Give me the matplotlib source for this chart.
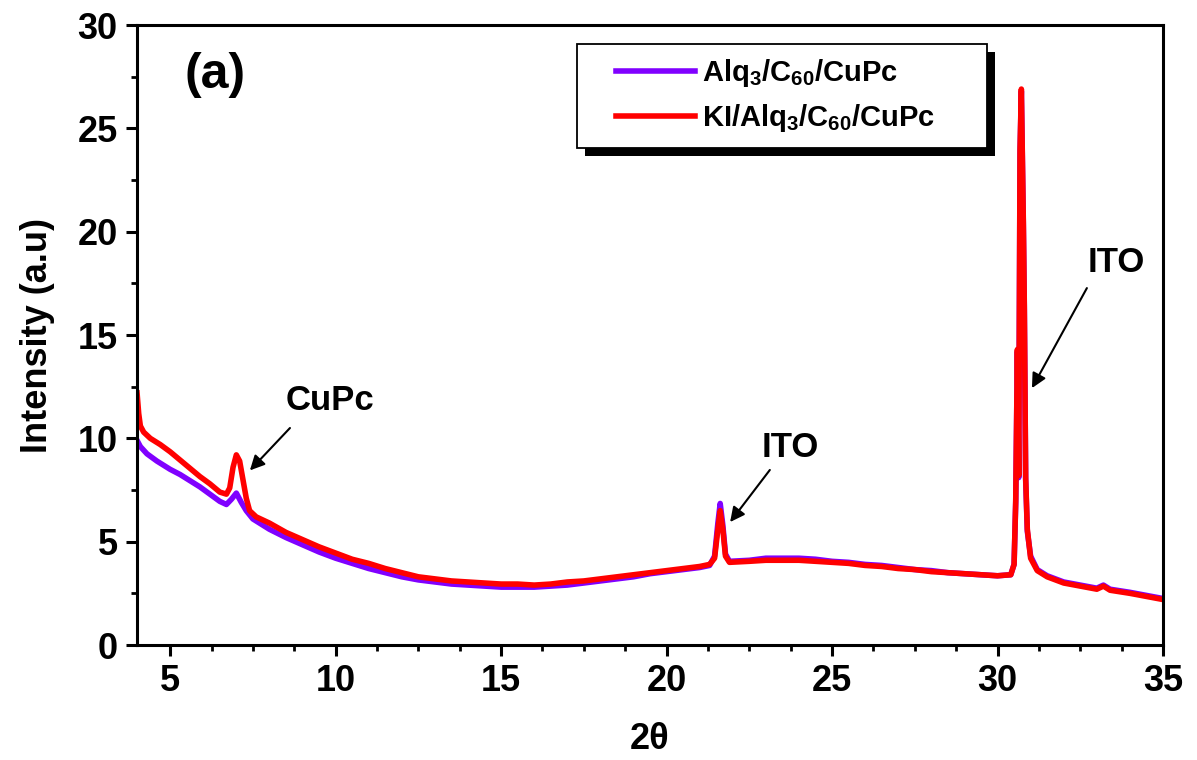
import matplotlib
matplotlib.use("Agg")
import matplotlib.pyplot as plt
from matplotlib.lines import Line2D
from matplotlib.legend_handler import HandlerLine2D
from matplotlib.patches import Rectangle
from matplotlib.ticker import MultipleLocator

plt.rcParams['font.family'] = ['Liberation Sans', 'DejaVu Sans']
plt.rcParams['font.weight'] = 'bold'
plt.rcParams['axes.labelweight'] = 'bold'
plt.rcParams['mathtext.fontset'] = 'custom'
plt.rcParams['mathtext.rm'] = 'Liberation Sans'
plt.rcParams['mathtext.bf'] = 'Liberation Sans:bold'
plt.rcParams['mathtext.it'] = 'Liberation Sans:italic'

# Alq3/C60/CuPc (purple)
x_alq = [4.0, 4.1, 4.3, 4.6, 5.0, 5.3, 5.6, 5.9, 6.2, 6.5, 6.7, 6.85, 7.0, 7.15,
         7.3, 7.5, 8.0, 8.5, 9.0, 9.5, 10.0, 10.5, 11.0, 11.5, 12.0, 12.5, 13.0,
         13.5, 14.0, 14.5, 15.0, 15.5, 16.0, 16.5, 17.0, 17.5, 18.0, 18.5, 19.0,
         19.5, 20.0, 20.5, 21.0, 21.3, 21.45, 21.55, 21.62, 21.7, 21.78, 21.9,
         22.5, 23.0, 23.5, 24.0, 24.5, 25.0, 25.5, 26.0, 26.5, 27.0, 27.5, 28.0,
         28.5, 29.0, 29.5, 30.0, 30.4, 30.5, 30.55, 30.6, 30.64, 30.68, 30.72,
         30.78, 30.81, 30.85, 30.9, 31.0, 31.2, 31.5, 32.0, 32.5, 33.0, 33.2,
         33.4, 34.0, 34.5, 35.0]
y_alq = [9.9, 9.6, 9.25, 8.9, 8.5, 8.25, 7.95, 7.65, 7.3, 6.95, 6.8, 7.05, 7.35, 6.9,
         6.5, 6.1, 5.6, 5.2, 4.85, 4.5, 4.2, 3.95, 3.7, 3.5, 3.3, 3.15, 3.05,
         2.95, 2.9, 2.85, 2.8, 2.8, 2.8, 2.85, 2.9, 3.0, 3.1, 3.2, 3.3,
         3.45, 3.55, 3.65, 3.75, 3.85, 4.3, 5.9, 6.85, 5.8, 4.4, 4.05,
         4.1, 4.2, 4.2, 4.2, 4.15, 4.05, 4.0, 3.9, 3.85, 3.75, 3.65, 3.6,
         3.5, 3.45, 3.4, 3.35, 3.4, 3.9, 6.9, 14.2, 8.1, 23.8, 26.8,
         20.3, 16.2, 8.0, 5.5, 4.3, 3.65, 3.35, 3.05, 2.9, 2.75, 2.9,
         2.7, 2.55, 2.4, 2.25]

# KI/Alq3/C60/CuPc (red)
x_ki = [4.0, 4.05, 4.1, 4.2, 4.4, 4.7, 5.0, 5.3, 5.6, 5.9, 6.2, 6.5, 6.7, 6.8,
        6.9, 7.0, 7.1, 7.2, 7.3, 7.4, 7.6, 8.0, 8.5, 9.0, 9.5, 10.0, 10.5, 11.0,
        11.5, 12.0, 12.5, 13.0, 13.5, 14.0, 14.5, 15.0, 15.5, 16.0, 16.5, 17.0,
        17.5, 18.0, 18.5, 19.0, 19.5, 20.0, 20.5, 21.0, 21.3, 21.45, 21.55,
        21.62, 21.7, 21.78, 21.9, 22.5, 23.0, 23.5, 24.0, 24.5, 25.0, 25.5,
        26.0, 26.5, 27.0, 27.5, 28.0, 28.5, 29.0, 29.5, 30.0, 30.4, 30.5,
        30.55, 30.6, 30.64, 30.68, 30.72, 30.78, 30.81, 30.85, 30.9, 31.0,
        31.2, 31.5, 32.0, 32.5, 33.0, 33.2, 33.4, 34.0, 34.5, 35.0]
y_ki = [12.2, 11.2, 10.6, 10.3, 10.0, 9.7, 9.35, 8.95, 8.55, 8.15, 7.8, 7.4, 7.3, 7.6,
        8.6, 9.2, 8.9, 8.0, 7.1, 6.5, 6.2, 5.9, 5.45, 5.1, 4.75, 4.45, 4.15, 3.95,
        3.7, 3.5, 3.3, 3.2, 3.1, 3.05, 3.0, 2.95, 2.95, 2.9, 2.95, 3.05,
        3.1, 3.2, 3.3, 3.4, 3.5, 3.6, 3.7, 3.8, 3.9, 4.2, 5.6,
        6.5, 5.6, 4.3, 4.0, 4.05, 4.1, 4.1, 4.1, 4.05, 4.0, 3.95,
        3.85, 3.8, 3.7, 3.65, 3.55, 3.5, 3.45, 3.4, 3.35, 3.4, 3.9,
        7.0, 14.3, 8.2, 24.0, 26.9, 20.5, 16.4, 8.1, 5.6, 4.2,
        3.6, 3.3, 3.0, 2.85, 2.7, 2.85, 2.65, 2.5, 2.35, 2.2]

labels = [r'Alq$_\mathrm{3}$/C$_\mathrm{60}$/CuPc',
          r'KI/Alq$_\mathrm{3}$/C$_\mathrm{60}$/CuPc']
colors = ['#8000ff', '#ff0000']

fig = plt.figure(figsize=(11.97, 7.6), dpi=100)
ax = fig.add_axes([0.1145, 0.1513, 0.8571, 0.8158])

ax.plot(x_alq, y_alq, color=colors[0], lw=4, label=labels[0])
ax.plot(x_ki, y_ki, color=colors[1], lw=4, label=labels[1])

ax.set_xlim(4, 35)
ax.set_ylim(0, 30)
ax.xaxis.set_major_locator(MultipleLocator(5))
ax.xaxis.set_minor_locator(MultipleLocator(1.25))
ax.yaxis.set_major_locator(MultipleLocator(5))
ax.yaxis.set_minor_locator(MultipleLocator(2.5))
ax.tick_params(which='major', direction='out', length=8, width=2.2, labelsize=26, pad=6)
ax.tick_params(which='minor', direction='out', length=4.5, width=2.0)
for s in ax.spines.values():
    s.set_linewidth(2.2)

ax.set_xlabel('2θ', fontsize=26, labelpad=16)
ax.set_ylabel('Intensity (a.u)', fontsize=26, labelpad=16)

ax.text(0.076, 0.919, '(a)', transform=ax.transAxes, fontsize=36,
        ha='center', va='center', fontweight='bold')

# peak labels with arrows
arrow = dict(arrowstyle='-|>', color='black', lw=1.5, mutation_scale=22, shrinkA=0, shrinkB=0)
ax.annotate('', xy=(7.41, 8.45), xytext=(8.62, 10.5), arrowprops=arrow)
ax.text(9.83, 11.85, 'CuPc', fontsize=25, ha='center', va='center')
ax.annotate('', xy=(21.92, 5.95), xytext=(23.12, 8.47), arrowprops=arrow)
ax.text(23.73, 9.58, 'ITO', fontsize=25, ha='center', va='center')
ax.annotate('', xy=(31.04, 12.43), xytext=(32.7, 17.27), arrowprops=arrow)
ax.text(33.6, 18.5, 'ITO', fontsize=25, ha='center', va='center')

leg = ax.legend(loc='upper left', bbox_to_anchor=(0.4288, 0.792, 0.4, 0.177),
                mode='expand', borderaxespad=0, fontsize=21, frameon=True,
                fancybox=False, edgecolor='black', framealpha=1,
                borderpad=0.45, labelspacing=0.45, handlelength=3.6,
                handletextpad=0.25,
                handler_map={Line2D: HandlerLine2D(xpad=0.9)})
leg.get_frame().set_linewidth(1.3)

# solid black drop shadow behind the legend box
fig.canvas.draw()
bb = leg.get_window_extent().transformed(ax.transAxes.inverted())
dx = 8 / ax.bbox.width
dy = 8 / ax.bbox.height
ax.add_patch(Rectangle((bb.x0 + dx, bb.y0 - dy), bb.width, bb.height,
                       transform=ax.transAxes, facecolor='black', edgecolor='none',
                       zorder=leg.get_zorder() - 0.1, clip_on=False))

fig.savefig('out.png', dpi=100)
